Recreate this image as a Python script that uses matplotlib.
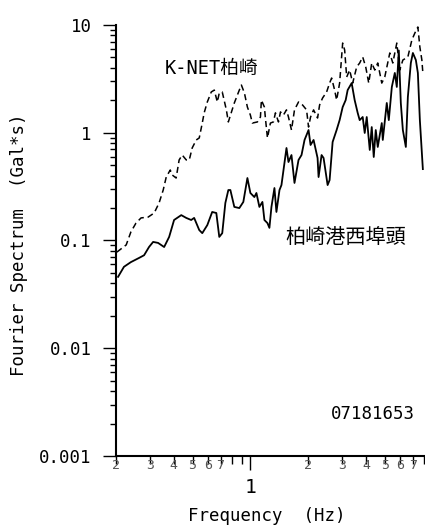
import numpy as np
import matplotlib
matplotlib.use('Agg')
import matplotlib.pyplot as plt
from matplotlib.ticker import FixedLocator, FixedFormatter, NullFormatter, LogLocator

# Fourier spectra (frequency in Hz, amplitude in Gal*s)
knet_f = [0.202, 0.226, 0.239, 0.254, 0.270, 0.294, 0.316, 0.335, 0.352, 0.365,
          0.383, 0.392, 0.411, 0.426, 0.442, 0.464, 0.481, 0.498, 0.523, 0.542,
          0.562, 0.575, 0.597, 0.626, 0.649, 0.673, 0.689, 0.714, 0.750, 0.768,
          0.825, 0.876, 0.898, 0.931, 0.965, 1.000, 1.024, 1.088, 1.128, 1.141,
          1.183, 1.197, 1.227, 1.271, 1.318, 1.350, 1.400, 1.434, 1.486, 1.541,
          1.578, 1.636, 1.696, 1.780, 1.868, 1.960, 2.007, 2.056, 2.132, 2.236,
          2.291, 2.374, 2.492, 2.583, 2.646, 2.743, 2.809, 2.912, 3.020, 3.093,
          3.169, 3.284, 3.405, 3.572, 3.703, 3.839, 3.981, 4.127, 4.278, 4.436,
          4.598, 4.825, 5.000, 5.311, 5.505, 5.776, 5.988, 6.210, 6.594, 6.917,
          7.172, 7.433, 7.613, 7.798, 7.891]
knet_a = [0.078, 0.091, 0.120, 0.145, 0.162, 0.165, 0.180, 0.223, 0.294, 0.388,
          0.451, 0.406, 0.380, 0.559, 0.621, 0.559, 0.559, 0.722, 0.857, 0.895,
          1.23, 1.53, 1.93, 2.39, 2.49, 1.93, 2.34, 2.39, 1.63, 1.26,
          1.89, 2.49, 2.77, 2.34, 1.73, 1.46, 1.23, 1.26, 1.40, 2.01,
          1.73, 1.37, 0.895, 1.23, 1.26, 1.53, 1.26, 1.56, 1.46, 1.63,
          1.40, 1.06, 1.63, 1.93, 1.81, 1.63, 1.13, 1.40, 1.63, 1.37,
          1.81, 2.10, 2.39, 2.89, 3.22, 2.49, 2.01, 2.89, 6.80, 5.86,
          3.29, 3.82, 2.89, 4.08, 4.44, 5.05, 4.08, 2.89, 4.44, 3.82,
          4.44, 2.89, 3.29, 5.50, 4.44, 6.80, 3.82, 4.73, 5.05, 7.26,
          8.43, 9.58, 6.25, 4.73, 3.59]

port_f = [0.205, 0.220, 0.239, 0.264, 0.280, 0.297, 0.312, 0.331, 0.356, 0.378,
          0.401, 0.437, 0.464, 0.492, 0.510, 0.542, 0.562, 0.597, 0.633, 0.665,
          0.689, 0.714, 0.741, 0.768, 0.787, 0.825, 0.876, 0.919, 0.965, 1.000,
          1.049, 1.075, 1.114, 1.155, 1.183, 1.227, 1.256, 1.287, 1.334, 1.366,
          1.417, 1.451, 1.504, 1.541, 1.578, 1.636, 1.696, 1.780, 1.845, 1.913,
          2.007, 2.056, 2.132, 2.236, 2.263, 2.346, 2.403, 2.522, 2.583, 2.678,
          2.809, 2.912, 3.020, 3.131, 3.206, 3.364, 3.487, 3.615, 3.703, 3.839,
          3.933, 4.029, 4.178, 4.278, 4.382, 4.489, 4.598, 4.825, 4.883, 5.122,
          5.248, 5.442, 5.640, 5.776, 5.916, 6.060, 6.210, 6.436, 6.594, 6.833,
          7.002, 7.256, 7.433, 7.613, 7.891]
port_a = [0.046, 0.057, 0.063, 0.069, 0.073, 0.087, 0.097, 0.095, 0.087, 0.108,
          0.155, 0.172, 0.162, 0.155, 0.162, 0.125, 0.117, 0.139, 0.184, 0.180,
          0.108, 0.117, 0.223, 0.294, 0.294, 0.205, 0.200, 0.228, 0.380, 0.276,
          0.253, 0.276, 0.205, 0.228, 0.155, 0.145, 0.131, 0.205, 0.307, 0.184,
          0.294, 0.327, 0.524, 0.722, 0.535, 0.621, 0.342, 0.559, 0.621, 0.857,
          1.06, 0.770, 0.857, 0.583, 0.388, 0.621, 0.583, 0.327, 0.364, 0.821,
          1.06, 1.31, 1.73, 2.01, 2.49, 2.89, 2.01, 1.53, 1.31, 1.40,
          0.995, 1.40, 0.692, 1.13, 0.596, 1.06, 0.738, 1.23, 0.857, 1.89,
          1.31, 2.66, 3.59, 2.66, 5.80, 1.89, 1.06, 0.738, 2.15, 4.44,
          5.50, 4.73, 3.59, 1.31, 0.46]

x_major = [1]
x_minor = [0.2, 0.3, 0.4, 0.5, 0.6, 0.7, 0.8, 0.9, 2, 3, 4, 5, 6, 7, 8]
x_minor_labels = ['2', '3', '4', '5', '6', '7', '', '', '2', '3', '4', '5', '6', '7', '']
y_major = [0.001, 0.01, 0.1, 1, 10]
y_labels = ['0.001', '0.01', '0.1', '1', '10']

plt.rcParams['font.family'] = ['DejaVu Sans Mono', 'Noto Sans CJK JP']

fig = plt.figure(figsize=(4.25, 5.25), dpi=100)
ax = fig.add_axes([116/425, 69/525, 308/425, 431/525])

ax.plot(knet_f, knet_a, color='black', lw=1.1, linestyle=(0, (4, 2.5)))
ax.plot(port_f, port_a, color='black', lw=1.3)

ax.set_xscale('log')
ax.set_yscale('log')
ax.set_xlim(0.2, 8)
ax.set_ylim(0.001, 10)

for side in ['top', 'right']:
    ax.spines[side].set_visible(False)
for side in ['left', 'bottom']:
    ax.spines[side].set_linewidth(1.5)

# x axis: only "1" is a major tick, the rest are small grey labels
ax.xaxis.set_major_locator(FixedLocator(x_major))
ax.xaxis.set_major_formatter(FixedFormatter(['1']))
ax.xaxis.set_minor_locator(FixedLocator(x_minor))
ax.xaxis.set_minor_formatter(FixedFormatter(x_minor_labels))
ax.tick_params(axis='x', which='major', length=10, width=1.0, pad=6, labelsize=14)
ax.tick_params(axis='x', which='minor', length=6, width=1.0, pad=-4,
               labelsize=9.5, labelcolor='#555555')

# y axis: decades with minor ticks
ax.yaxis.set_major_locator(FixedLocator(y_major))
ax.yaxis.set_major_formatter(FixedFormatter(y_labels))
ax.yaxis.set_minor_locator(LogLocator(base=10, subs=np.arange(2, 10)))
ax.yaxis.set_minor_formatter(NullFormatter())
ax.tick_params(axis='y', which='major', length=9.5, width=1.0, pad=8, labelsize=12.5)
ax.tick_params(axis='y', which='minor', length=4.5, width=1.0)

ax.set_xlabel('Frequency  (Hz)', fontsize=12.5)
ax.set_ylabel('Fourier Spectrum  (Gal*s)', fontsize=12.5)
ax.xaxis.set_label_coords(0.49, -0.118)
ax.yaxis.set_label_coords(-0.286, 0.49)

ax.text(0.159, 0.900, 'K-NET柏崎', transform=ax.transAxes, fontsize=13.5,
        ha='left', va='center')
ax.text(0.549, 0.506, '柏崎港西埠頭', transform=ax.transAxes, fontsize=14.5,
        ha='left', va='center')
ax.text(0.971, 0.097, '07181653', transform=ax.transAxes, fontsize=12.5,
        ha='right', va='center')

fig.savefig('out.png', dpi=100)
